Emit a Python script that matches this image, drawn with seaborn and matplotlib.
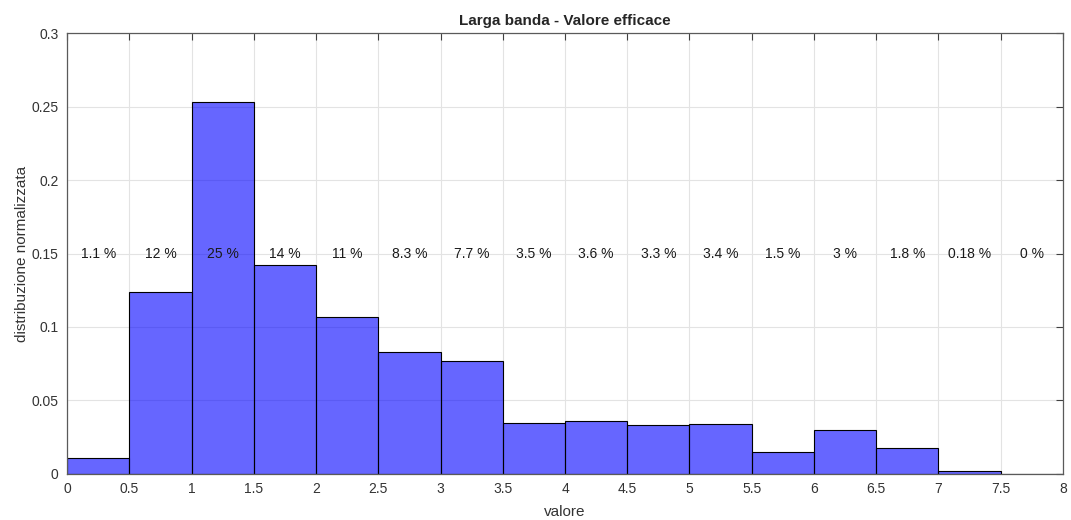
import numpy as np
import pandas as pd
import seaborn as sns
import matplotlib
matplotlib.use("Agg")
import matplotlib.pyplot as plt

# Normalized distribution of the RMS value, bins of width 0.5 from 0 to 8
bin_edges = [0, 0.5, 1, 1.5, 2, 2.5, 3, 3.5, 4, 4.5, 5, 5.5, 6, 6.5, 7, 7.5, 8]
fractions = [0.011, 0.124, 0.253, 0.142, 0.107, 0.083, 0.077, 0.035,
             0.036, 0.033, 0.034, 0.015, 0.030, 0.018, 0.0018, 0.0]

x_ticks = [0, 0.5, 1, 1.5, 2, 2.5, 3, 3.5, 4, 4.5, 5, 5.5, 6, 6.5, 7, 7.5, 8]
x_ticklabels = ["0", "0.5", "1", "1.5", "2", "2.5", "3", "3.5", "4", "4.5",
                "5", "5.5", "6", "6.5", "7", "7.5", "8"]
y_ticks = [0, 0.05, 0.1, 0.15, 0.2, 0.25, 0.3]
y_ticklabels = ["0", "0.05", "0.1", "0.15", "0.2", "0.25", "0.3"]

title = "Larga banda - Valore efficace"
x_label = "valore"
y_label = "distribuzione normalizzata"
label_y = 0.15

sns.set_style("white")
plt.rcParams["font.family"] = ["Liberation Sans", "DejaVu Sans"]

centers = [(a + b) / 2 for a, b in zip(bin_edges[:-1], bin_edges[1:])]
df = pd.DataFrame({"centro": centers, "frazione": fractions})

fig = plt.figure(figsize=(10.71, 5.2), dpi=100)
ax = fig.add_axes([0.0626, 0.0885, 0.9299, 0.848])

sns.histplot(data=df, x="centro", weights="frazione", bins=bin_edges,
             stat="count", ax=ax, color="#0000ff", alpha=0.6,
             edgecolor="black", linewidth=0.8)

# Percentage labels above each bin
for c, f in zip(centers, fractions):
    ax.text(c, label_y, f"{f * 100:.2g} %", ha="center", va="center",
            fontsize=10, color="#1a1a1a")

ax.set_xlim(0, 8)
ax.set_ylim(0, 0.3)
ax.set_xticks(x_ticks)
ax.set_xticklabels(x_ticklabels)
ax.set_yticks(y_ticks)
ax.set_yticklabels(y_ticklabels)
ax.set_axisbelow(True)
ax.grid(True, color="#e3e3e3", linewidth=0.8)
ax.tick_params(direction="in", length=5, width=0.8, color="#404040",
               labelsize=10, labelcolor="#333333", top=True, right=True,
               pad=6)
for s in ax.spines.values():
    s.set_color("#5a5a5a")
    s.set_linewidth(0.9)

ax.set_title(title, fontsize=11, fontweight="bold", pad=6)
ax.set_xlabel(x_label, fontsize=11, color="#333333", labelpad=6)
ax.set_ylabel(y_label, fontsize=11, color="#333333", labelpad=2)

fig.savefig("out.png", dpi=100)
